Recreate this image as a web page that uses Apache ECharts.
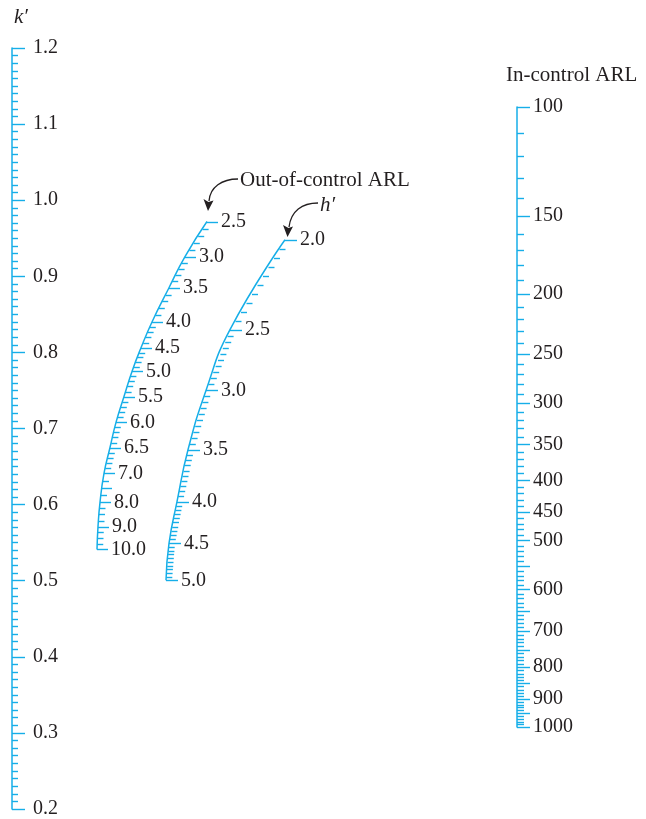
<!DOCTYPE html>
<html><head><meta charset="utf-8">
<script src="https://cdn.jsdelivr.net/npm/echarts@6/dist/echarts.min.js"></script>
<style>html,body{margin:0;padding:0;background:#fff}#c{width:646px;height:819px}</style>
</head><body><div id="c"></div>
<script>
// ---- data ----
const kPrimeRange = [0.2, 1.2];
const kPrimeStep = 0.1;

// Out-of-control ARL scale: labelled values, k' level opposite each mark, horizontal offset from k' axis
const oocValues = [2.5, 3.0, 3.5, 4.0, 4.5, 5.0, 5.5, 6.0, 6.5, 7.0, 8.0, 9.0, 10.0];
const oocLevel  = [0.972, 0.926, 0.885, 0.840, 0.806, 0.775, 0.742, 0.708, 0.675, 0.641, 0.603, 0.571, 0.541];
const oocOffset = [195, 173, 157, 140, 129, 120, 112, 104, 98, 92, 88, 86, 85];
const oocMinorSteps = [[2.5, 7.0, 0.1], [7.0, 10.0, 0.25]];
const oocMedium = [7.5];

// h' scale
const hValues = [2.0, 2.5, 3.0, 3.5, 4.0, 4.5, 5.0];
const hLevel  = [0.948, 0.830, 0.750, 0.672, 0.604, 0.549, 0.5005];
const hOffset = [273, 218, 194, 176, 165, 157, 154];
const hMinorSteps = [[2.0, 5.0, 0.05]];

// In-control ARL scale (log)
const arlRange = [100, 1000];
const arlValues = [100, 150, 200, 250, 300, 350, 400, 450, 500, 600, 700, 800, 900, 1000];
const arlMedium = [550, 650, 750, 850, 950];
const arlMinorStep = 10;

// ---- styles ----
const BLUE = '#16aee8';
const INK = '#231f20';
const FONT = '"Liberation Serif", "Times New Roman", serif';
const LW = 1.4;

function locate(values, level, offset, v) {
  for (let i = 0; i < values.length - 1; i++) {
    if (v >= values[i] - 1e-9 && v <= values[i + 1] + 1e-9) {
      const t = (v - values[i]) / (values[i + 1] - values[i]);
      return [offset[i] + t * (offset[i + 1] - offset[i]), level[i] + t * (level[i + 1] - level[i])];
    }
  }
  return null;
}
function near(list, v) { return list.some(x => Math.abs(x - v) < 1e-6); }

function curveTicks(values, level, offset, steps, medium) {
  const out = [];
  values.forEach((v, i) => out.push({ value: [offset[i], level[i], 2], label: v.toFixed(1) }));
  steps.forEach(([a, b, s]) => {
    const n = Math.round((b - a) / s);
    for (let j = 1; j < n; j++) {
      const v = +(a + j * s).toFixed(4);
      if (near(values, v)) continue;
      const p = locate(values, level, offset, v);
      out.push({ value: [p[0], p[1], near(medium, v) ? 1 : 0], label: '' });
    }
  });
  return out;
}

const oocTicks = curveTicks(oocValues, oocLevel, oocOffset, oocMinorSteps, oocMedium);
const hTicks = curveTicks(hValues, hLevel, hOffset, hMinorSteps, []);

const arlTicks = [];
arlValues.forEach(v => arlTicks.push({ value: [0, v, 2], label: String(v) }));
for (let v = arlRange[0] + arlMinorStep; v < arlRange[1]; v += arlMinorStep) {
  if (near(arlValues, v)) continue;
  arlTicks.push({ value: [0, v, near(arlMedium, v) ? 1 : 0], label: '' });
}

function makeRender(ticks, lens) {
  return function (params, api) {
    const p = api.coord([api.value(0), api.value(1)]);
    const kind = api.value(2);
    const len = lens[kind];
    const y = Math.round(p[1]) + 0.5;
    const children = [{
      type: 'line',
      shape: { x1: p[0], y1: y, x2: p[0] + len, y2: y },
      style: { stroke: BLUE, lineWidth: LW }
    }];
    const lab = ticks[params.dataIndex].label;
    if (lab) {
      children.push({
        type: 'text', x: p[0] + len + 3, y: p[1],
        style: { text: lab, fill: INK, font: '20px ' + FONT, verticalAlign: 'middle', align: 'left' }
      });
    }
    return { type: 'group', children };
  };
}

const chart = echarts.init(document.getElementById('c'), null, { renderer: 'canvas' });
chart.setOption({
  animation: false,
  backgroundColor: '#fff',
  grid: [
    { left: 12, right: 0, top: 48, bottom: 9 },
    { left: 517, width: 100, top: 107, height: 620 }
  ],
  xAxis: [
    { gridIndex: 0, type: 'value', min: 0, max: 634, show: false },
    { gridIndex: 1, type: 'value', min: 0, max: 1, show: false }
  ],
  yAxis: [
    {
      gridIndex: 0, type: 'value', min: kPrimeRange[0], max: kPrimeRange[1], interval: kPrimeStep,
      position: 'left',
      axisLine: { show: true, lineStyle: { color: BLUE, width: 1.5 } },
      axisTick: { show: true, inside: true, length: 13, lineStyle: { color: BLUE, width: LW } },
      minorTick: { show: true, splitNumber: 10, length: 6, lineStyle: { color: BLUE, width: LW } },
      axisLabel: { inside: true, margin: 21, color: INK, fontSize: 20, fontFamily: FONT,
        showMinLabel: true, showMaxLabel: true, formatter: v => v.toFixed(1) },
      splitLine: { show: false }, minorSplitLine: { show: false }
    },
    {
      gridIndex: 1, type: 'log', min: arlRange[0], max: arlRange[1], inverse: true, position: 'left',
      axisLine: { show: true, lineStyle: { color: BLUE, width: 1.5 } },
      axisTick: { show: false }, axisLabel: { show: false }, splitLine: { show: false }
    }
  ],
  series: [
    { type: 'line', xAxisIndex: 0, yAxisIndex: 0, data: oocValues.map((v, i) => [oocOffset[i], oocLevel[i]]),
      smooth: 0.5, symbol: 'none', lineStyle: { color: BLUE, width: 1.5 }, silent: true },
    { type: 'line', xAxisIndex: 0, yAxisIndex: 0, data: hValues.map((v, i) => [hOffset[i], hLevel[i]]),
      smooth: 0.5, symbol: 'none', lineStyle: { color: BLUE, width: 1.5 }, silent: true },
    { type: 'custom', xAxisIndex: 0, yAxisIndex: 0, data: oocTicks.map(t => t.value),
      renderItem: makeRender(oocTicks, [6, 10, 11]), clip: false, silent: true },
    { type: 'custom', xAxisIndex: 0, yAxisIndex: 0, data: hTicks.map(t => t.value),
      renderItem: makeRender(hTicks, [6, 10, 12]), clip: false, silent: true },
    { type: 'custom', xAxisIndex: 1, yAxisIndex: 1, data: arlTicks.map(t => t.value),
      renderItem: makeRender(arlTicks, [7, 13, 13]), clip: false, silent: true }
  ],
  graphic: [
    { type: 'text', x: 14, y: 17, style: { text: 'k\u2032', fill: INK, font: 'italic 21px ' + FONT, verticalAlign: 'middle' } },
    { type: 'text', x: 506, y: 75, style: { text: 'In-control ARL', fill: INK, font: '21px ' + FONT, verticalAlign: 'middle' } },
    { type: 'text', x: 240, y: 180, style: { text: 'Out-of-control ARL', fill: INK, font: '21px ' + FONT, verticalAlign: 'middle' } },
    { type: 'text', x: 320, y: 205, style: { text: 'h\u2032', fill: INK, font: 'italic 21px ' + FONT, verticalAlign: 'middle' } },
    { type: 'bezierCurve', shape: { x1: 238, y1: 179, cpx1: 222, cpy1: 179, cpx2: 210, cpy2: 187, x2: 209, y2: 201 },
      style: { stroke: INK, lineWidth: 1.3, fill: null } },
    { type: 'polygon', shape: { points: [[208, 211], [203.5, 199], [208.5, 202], [213.5, 200.5]] }, style: { fill: INK } },
    { type: 'bezierCurve', shape: { x1: 318, y1: 203, cpx1: 302, cpy1: 203, cpx2: 291, cpy2: 211, x2: 289, y2: 227 },
      style: { stroke: INK, lineWidth: 1.3, fill: null } },
    { type: 'polygon', shape: { points: [[287.5, 237], [283, 225], [288.5, 228], [293, 226.5]] }, style: { fill: INK } }
  ]
});
</script></body></html>
